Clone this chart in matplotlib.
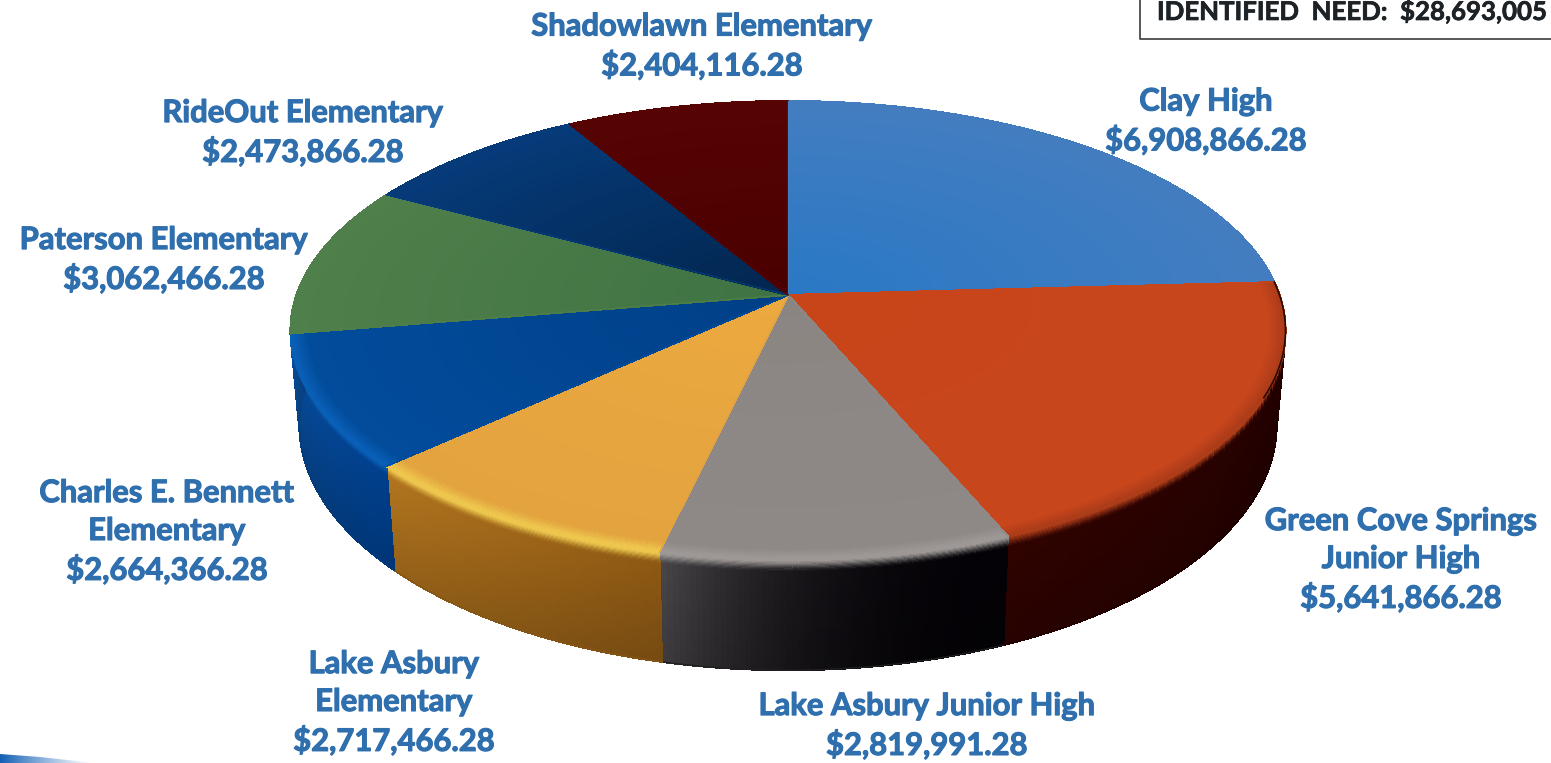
import numpy as np
import matplotlib
matplotlib.use('Agg')
import matplotlib.pyplot as plt
import matplotlib.patheffects as pe
from matplotlib.collections import PolyCollection
from matplotlib.colors import to_rgb
from matplotlib.patches import Polygon

plt.rcParams['font.family'] = ['Lato', 'DejaVu Sans']

schools = ['Clay High', 'Green Cove Springs\nJunior High', 'Lake Asbury Junior High',
           'Lake Asbury\nElementary', 'Charles E. Bennett\nElementary',
           'Paterson Elementary', 'RideOut Elementary', 'Shadowlawn Elementary']
amounts = [6908866.28, 5641866.28, 2819991.28, 2717466.28,
           2664366.28, 3062466.28, 2473866.28, 2404116.28]

# 顶面颜色 (圆心, 边缘)
top_colors = [('#2a78c4', '#437dc0'), ('#c8451a', '#c8461c'), ('#8b8582', '#8e8987'),
              ('#eca93f', '#e3a33f'), ('#003f86', '#024c9c'), ('#3f7344', '#4f7f4a'),
              ('#02264f', '#063a78'), ('#4a0000', '#560303')]
rim_colors = ['#437dc0', '#a83a18', '#a09b99', '#f0cc50', '#0a62ba', '#4f7f4a', '#063a78', '#560303']
# 侧面颜色 (起始角, 结束角) 和渐变指数
side_colors = [('#2a1008', '#2a1008'), ('#1e0000', '#300300'), ('#040206', '#4c494c'),
               ('#8f5a14', '#b5771f'), ('#00408f', '#0a4f9e'), ('#0a4f9e', '#0a4f9e'),
               ('#02264f', '#02264f'), ('#4a0000', '#4a0000')]
side_gamma = [1, 1, 2.5, 1, 1, 1, 1, 1]
label_pos = [(1206, 121.5), (1401, 560), (927, 726), (394, 703), (167, 532),
             (164, 260), (303, 133), (702, 46.5)]

cx, cy = 788, 295
R, S, k, D = 491.5, 224, 0.155, 93


def project(theta, r, z):
    # 透视投影, theta 从正上方顺时针, 越往下越窄
    x = r * np.sin(theta)
    y = -r * np.cos(theta)
    w = 1 - k * y
    return cx + R * x / (w + 0.018 * z), cy + (S * y + D * z) / w


def mix(c1, c2, t):
    return (1 - t) * np.array(to_rgb(c1)) + t * np.array(to_rgb(c2))


fig = plt.figure(figsize=(15.51, 7.63), dpi=100)
ax = fig.add_axes([0, 0, 1, 1])
ax.set_xlim(0, 1551)
ax.set_ylim(763, 0)
ax.axis('off')

edges = np.cumsum([0] + amounts) / sum(amounts) * 2 * np.pi
radii = np.concatenate([np.linspace(0, 0.965, 30), np.linspace(0.97, 1.0, 6)])
depths = np.concatenate([np.linspace(0, 0.14, 14), np.linspace(0.2, 1.0, 16)])

# 侧面
for i in range(len(amounts)):
    thetas = np.linspace(edges[i], edges[i + 1], 60)
    verts, cols = [], []
    for a, b in zip(thetas[:-1], thetas[1:]):
        if -np.cos(a) < -0.1 and -np.cos(b) < -0.1:
            continue
        t = ((a - edges[i]) / (edges[i + 1] - edges[i])) ** side_gamma[i]
        base = mix(side_colors[i][0], side_colors[i][1], t)
        for z0, z1 in zip(depths[:-1], depths[1:]):
            verts.append([project(a, 1, z0), project(b, 1, z0), project(b, 1, z1), project(a, 1, z1)])
            f = min(z0 / 0.11, 1)
            f = f * f * (3 - 2 * f)
            c = (1 - f) * np.array(to_rgb(rim_colors[i])) + f * base
            cols.append(c * (1 - 0.18 * z0))
    if verts:
        ax.add_collection(PolyCollection(verts, facecolors=cols, edgecolors=cols, linewidths=0.8,
                                         antialiaseds=False, zorder=2))
    # 底部轮廓抗锯齿
    vis = thetas[-np.cos(thetas) > -0.1]
    if len(vis) > 1:
        ax.plot(*project(vis, 1, 1), color=mix(side_colors[i][0], side_colors[i][1], 0.5) * 0.82, lw=1.0, zorder=2)

# 顶面
for i in range(len(amounts)):
    thetas = np.linspace(edges[i], edges[i + 1], 60)
    verts, cols = [], []
    for a, b in zip(thetas[:-1], thetas[1:]):
        for r0, r1 in zip(radii[:-1], radii[1:]):
            verts.append([project(a, r0, 0), project(b, r0, 0), project(b, r1, 0), project(a, r1, 0)])
            if r0 >= 0.965:
                c = mix(top_colors[i][1], rim_colors[i], (r0 - 0.965) / 0.035)
            else:
                c = mix(top_colors[i][0], top_colors[i][1], r0 / 0.965)
            cols.append(c)
    ax.add_collection(PolyCollection(verts, facecolors=cols, edgecolors=cols, linewidths=0.8,
                                     antialiaseds=False, zorder=3))
    # 背面弧线抗锯齿, 前面已和侧面相接
    arc_x, arc_y = project(thetas, 1, 0)
    if -np.cos(thetas.mean()) < 0:
        ax.plot(arc_x, arc_y, color=rim_colors[i], lw=1.0, zorder=3)
    # 扇形分界线
    lx, ly = project(np.array([edges[i], edges[i]]), np.array([0, 1]), 0)
    ax.plot(lx, ly, color=top_colors[i][1], lw=0.9, zorder=3.5)

# 橙色扇形右侧的深色边
dark_arc = np.linspace(edges[1], edges[1] + 0.5, 30)
ax.plot(*project(dark_arc, 1, 0), color='#2a0800', lw=1.2, zorder=3.6)

# 标签
for name, amount, pos in zip(schools, amounts, label_pos):
    ax.text(pos[0], pos[1], f'{name}\n${amount:,.2f}', ha='center', va='center', fontsize=22.3,
            fontweight='bold', color='#2f6fae', linespacing=1.43, zorder=5,
            path_effects=[pe.withStroke(linewidth=0.8, foreground='#2f6fae')])

# 右上角方框
ax.plot([1140, 1140, 1551], [0, 38.5, 38.5], color='#4a4a4a', lw=1.3, zorder=5)
ax.text(1157, 11, 'IDENTIFIED  NEED:  $28,693,005', ha='left', va='center', fontsize=18.6,
        fontweight='bold', color='#1c2226', zorder=5,
        path_effects=[pe.withStroke(linewidth=0.5, foreground='#1c2226')])

# 左下角蓝色色带
grad = np.zeros((2, 256, 4))
grad[..., :3] = to_rgb('#125fb4')
grad[..., 3] = np.linspace(1, 0, 256) ** 1.2
band = ax.imshow(grad, extent=(0, 95, 763, 754), aspect='auto', zorder=1)
band.set_clip_path(Polygon([(0, 754), (40, 757), (95, 763), (0, 763)], transform=ax.transData))
ax.set_xlim(0, 1551)
ax.set_ylim(763, 0)

plt.savefig('out.png', dpi=100)
